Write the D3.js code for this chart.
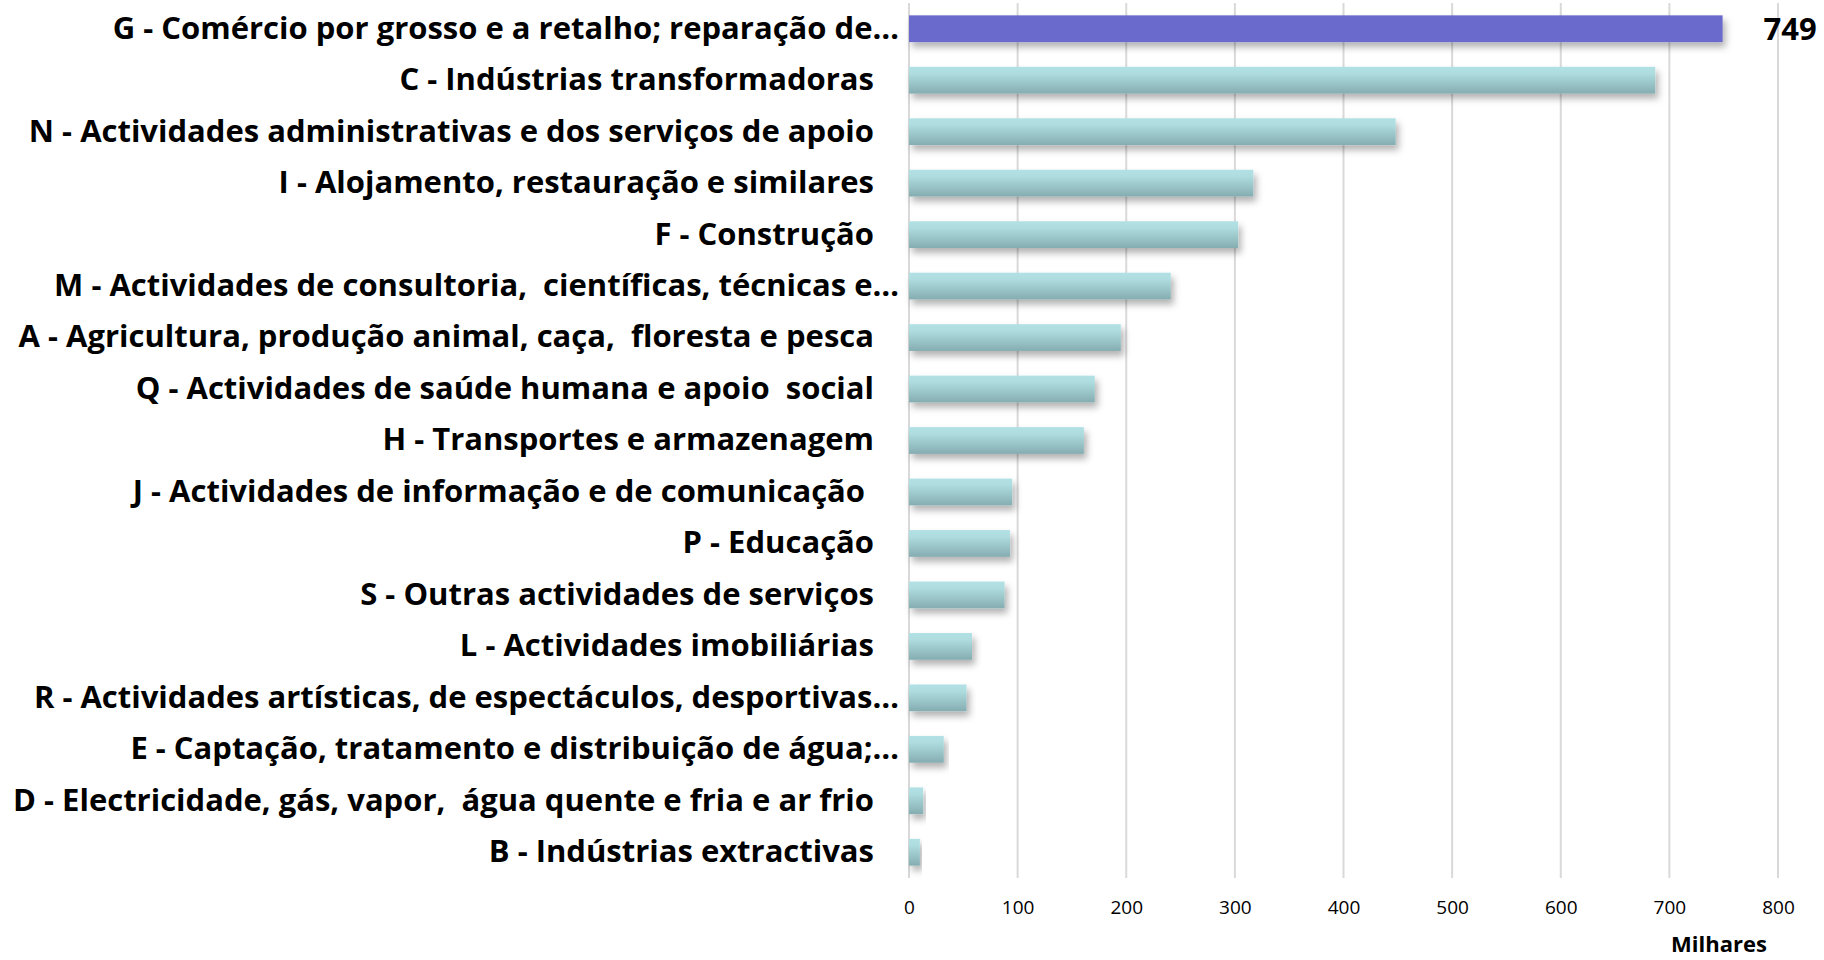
<!DOCTYPE html>
<html>
<head>
<meta charset="utf-8">
<script src="https://cdn.jsdelivr.net/npm/d3@7"></script>
<style>
  body { margin: 0; background: #fff; }
</style>
</head>
<body>
<div id="container"></div>
<script>
let categories = [
  "G - Comércio por grosso e a retalho; reparação de…",
  "C - Indústrias transformadoras ",
  "N - Actividades administrativas e dos serviços de apoio ",
  "I - Alojamento, restauração e similares ",
  "F - Construção ",
  "M - Actividades de consultoria,  científicas, técnicas e…",
  "A - Agricultura, produção animal, caça,  floresta e pesca ",
  "Q - Actividades de saúde humana e apoio  social ",
  "H - Transportes e armazenagem ",
  "J - Actividades de informação e de comunicação  ",
  "P - Educação ",
  "S - Outras actividades de serviços ",
  "L - Actividades imobiliárias ",
  "R - Actividades artísticas, de espectáculos, desportivas…",
  "E - Captação, tratamento e distribuição de água;…",
  "D - Electricidade, gás, vapor,  água quente e fria e ar frio ",
  "B - Indústrias extractivas "
];
let values = [749, 687, 448, 317, 303, 241, 195, 171, 161, 95, 93, 88, 58, 53, 32, 13, 10];
let ticks = [0, 100, 200, 300, 400, 500, 600, 700, 800];
let highlight = "G - Comércio por grosso e a retalho; reparação de…";
let axisTitle = "Milhares";

let w = 1824;
let h = 960;
let xleft = 909;
let xright = 1778;
let ytop = 3;
let ybottom = 878;

let data = categories.map(function(c, i){
  return { name: c, value: values[i] };
});

let viz = d3.select("#container")
  .append("svg")
    .attr("width", w)
    .attr("height", h)
;

let defs = viz.append("defs");
let grad = defs.append("linearGradient")
    .attr("id", "tealgrad")
    .attr("x1", 0).attr("y1", 0).attr("x2", 0).attr("y2", 1);
grad.append("stop").attr("offset", "0%").attr("stop-color", "#b2e1e5");
grad.append("stop").attr("offset", "25%").attr("stop-color", "#aedcdf");
grad.append("stop").attr("offset", "100%").attr("stop-color", "#85adb1");

let shadow = defs.append("filter")
    .attr("id", "shadow")
    .attr("x", "-5%").attr("y", "-30%").attr("width", "120%").attr("height", "190%");
shadow.append("feDropShadow")
    .attr("dx", 3).attr("dy", 5)
    .attr("stdDeviation", 3.5)
    .attr("flood-color", "#000")
    .attr("flood-opacity", 0.3);

let xScale = d3.scaleLinear().domain([0, 800]).range([xleft, xright]);
let yScale = d3.scaleBand()
    .domain(categories)
    .range([ytop, ybottom])
    .paddingInner(0.48)
    .paddingOuter(0.24);

// gridlines
let gridGroup = viz.append("g").attr("class", "grid");
gridGroup.selectAll("line").data(ticks).enter()
  .append("line")
    .attr("x1", function(d){ return xScale(d) })
    .attr("x2", function(d){ return xScale(d) })
    .attr("y1", ytop)
    .attr("y2", ybottom)
    .attr("stroke", "#d9d9d9")
    .attr("stroke-width", 2)
;

// x axis
let xAxis = d3.axisBottom(xScale).tickValues(ticks).tickSize(0).tickPadding(0);
let xAxisGroup = viz.append("g")
    .attr("class", "xaxisgroup")
    .attr("transform", "translate(0," + (ybottom + 19) + ")")
;
xAxisGroup.call(xAxis);
xAxisGroup.select(".domain").remove();
xAxisGroup.selectAll("text")
    .attr("font-family", "'Open Sans', sans-serif")
    .attr("font-size", "19px")
    .attr("fill", "#000")
    .attr("dy", "0.9em")
;

viz.append("text")
    .attr("x", 1719)
    .attr("y", 952)
    .attr("text-anchor", "middle")
    .attr("font-family", "'Open Sans', sans-serif")
    .attr("font-weight", "bold")
    .attr("font-size", "22px")
    .text(axisTitle)
;

// y labels (trailing spaces in the labels push the text left a little)
function trailing(s){
  let m = s.match(/ +$/);
  return m ? m[0].length : 0;
}
let yAxis = d3.axisLeft(yScale).tickSize(0).tickPadding(10);
let yAxisGroup = viz.append("g")
    .attr("class", "yaxisgroup")
    .attr("transform", "translate(" + xleft + ",0)")
;
yAxisGroup.call(yAxis);
yAxisGroup.select(".domain").remove();
yAxisGroup.selectAll("text")
    .text(function(d){ return d.replace(/ +$/, "") })
    .attr("dx", function(d){ let n = trailing(d); return n ? -(16 + 9 * n) : 0 })
    .attr("font-family", "'Open Sans', sans-serif")
    .attr("font-weight", "bold")
    .attr("font-size", "31px")
    .attr("fill", "#000")
    .style("white-space", "pre")
;

// bars
let graphgroup = viz.append("g").attr("class", "graphgroup");
graphgroup.selectAll(".bar").data(data).enter()
  .append("rect")
    .attr("class", "bar")
    .attr("x", xScale(0))
    .attr("y", function(d){ return yScale(d.name) })
    .attr("width", function(d){ return xScale(d.value) - xScale(0) })
    .attr("height", yScale.bandwidth())
    .attr("fill", function(d){ return d.name == highlight ? "#6a6acd" : "url(#tealgrad)" })
    .attr("filter", "url(#shadow)")
;

// value label on highlighted bar
let hl = data.filter(function(d){ return d.name == highlight });
graphgroup.selectAll(".vlabel").data(hl).enter()
  .append("text")
    .attr("class", "vlabel")
    .attr("x", function(d){ return xScale(d.value) + 41 })
    .attr("y", function(d){ return yScale(d.name) + yScale.bandwidth() / 2 })
    .attr("dy", "0.36em")
    .attr("font-family", "'Open Sans', sans-serif")
    .attr("font-weight", "bold")
    .attr("font-size", "31px")
    .text(function(d){ return d.value })
;
</script>
</body>
</html>
